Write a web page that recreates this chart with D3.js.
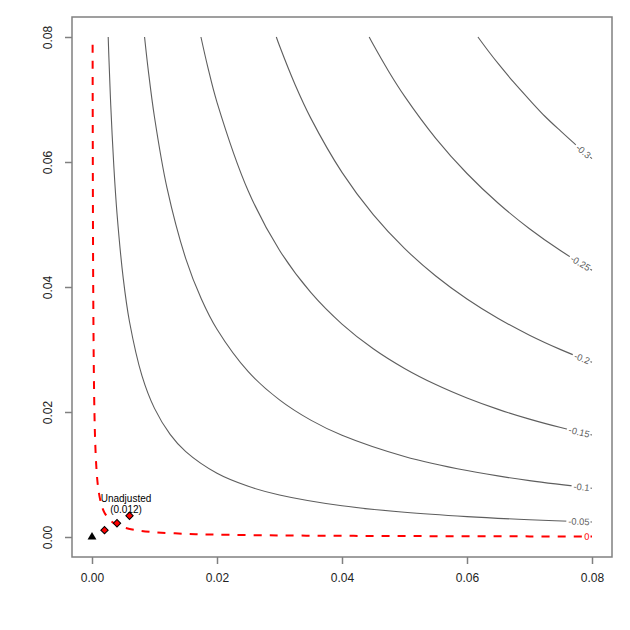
<!DOCTYPE html>
<html>
<head>
<meta charset="utf-8">
<script src="https://cdn.jsdelivr.net/npm/d3@7"></script>
<style>
body { margin: 0; background: #fff; }
svg { display: block; font-family: "Liberation Sans", Arial, Helvetica, sans-serif; }
</style>
</head>
<body>
<svg width="630" height="630"></svg>
<script>
// unadjusted estimate and contour levels of the adjusted estimate
var estimate = 0.012;
var contourLevels = [0, -0.05, -0.1, -0.15, -0.2, -0.25, -0.3];

// contour traces [x, y]
var contour0 = [[0.0000973, 0.08], [0.0001, 0.07787], [0.00012, 0.06489], [0.00015, 0.05192], [0.0002, 0.03894],
    [0.0003, 0.02595], [0.0004, 0.01946], [0.0005, 0.01557], [0.0007, 0.01112], [0.001, 0.00778],
    [0.0015, 0.00518], [0.002, 0.00389], [0.003, 0.00259], [0.004, 0.00194], [0.005, 0.00155],
    [0.007, 0.0011], [0.01, 0.00077], [0.015, 0.00051], [0.02, 0.00038], [0.03, 0.00025],
    [0.04, 0.00019], [0.05, 0.00015], [0.06, 0.00012], [0.07, 0.0001], [0.08, 0.00009]];
var contour005 = [[0.002592, 0.08], [0.0027, 0.07679], [0.003, 0.06909], [0.0035, 0.05919], [0.004, 0.05177],
    [0.005, 0.04137], [0.006, 0.03444], [0.008, 0.02578], [0.01, 0.02058], [0.0125, 0.01642],
    [0.015, 0.01365], [0.02, 0.01019], [0.025, 0.008108], [0.03, 0.006722], [0.04, 0.00499],
    [0.05, 0.00395], [0.06, 0.003257], [0.07, 0.002762], [0.08, 0.002391]];
var contour010 = [[0.008409, 0.08], [0.009, 0.0747], [0.01, 0.06716], [0.012, 0.05585], [0.015, 0.04455],
    [0.0175, 0.03809], [0.02, 0.03324], [0.025, 0.02646], [0.03, 0.02194], [0.035, 0.0187],
    [0.04, 0.01628], [0.05, 0.01289], [0.06, 0.01063], [0.07, 0.009013], [0.08, 0.007802]];
var contour015 = [[0.01743, 0.08], [0.0185, 0.07531], [0.02, 0.06955], [0.025, 0.05536], [0.03, 0.04589],
    [0.035, 0.03913], [0.04, 0.03407], [0.045, 0.03012], [0.05, 0.02697], [0.055, 0.02439],
    [0.06, 0.02224], [0.065, 0.02042], [0.07, 0.01886], [0.075, 0.01751], [0.08, 0.01632]];
var contour020 = [[0.02949, 0.08], [0.03, 0.07859], [0.0325, 0.07236], [0.035, 0.06702], [0.04, 0.05834],
    [0.045, 0.05158], [0.05, 0.04618], [0.055, 0.04176], [0.06, 0.03808], [0.065, 0.03496],
    [0.07, 0.03229], [0.075, 0.02998], [0.08, 0.02795]];
var contour025 = [[0.04435, 0.08], [0.045, 0.07879], [0.0475, 0.07445], [0.05, 0.07054], [0.055, 0.06379],
    [0.06, 0.05816], [0.065, 0.0534], [0.07, 0.04932], [0.075, 0.04579], [0.08, 0.04269]];
var contour030 = [[0.06175, 0.08], [0.0635, 0.07764], [0.065, 0.07573], [0.0675, 0.07273], [0.07, 0.06995],
    [0.0725, 0.06728], [0.075, 0.06493], [0.0775, 0.06267], [0.08, 0.06054]];
var contourTraces = [contour0, contour005, contour010, contour015, contour020, contour025, contour030];

// bound points
var boundX = [0.002, 0.004, 0.006];
var boundY = [0.0011, 0.0022, 0.0034];
var unadjustedPoint = [0, 0];

// axis ticks
var tickValues = [0, 0.02, 0.04, 0.06, 0.08];
var tickLabels = ["0.00", "0.02", "0.04", "0.06", "0.08"];

var svg = d3.select("svg");
var plotLeft = 72, plotRight = 612, plotTop = 17, plotBottom = 557;

var x = d3.scaleLinear().domain([-0.0032, 0.0832]).range([plotLeft, plotRight]);
var y = d3.scaleLinear().domain([-0.0032, 0.0832]).range([plotBottom, plotTop]);

var line = d3.line()
    .x(function(d) { return x(d[0]); })
    .y(function(d) { return y(d[1]); })
    .curve(d3.curveCatmullRom.alpha(0.5));

// contour lines
var lines = svg.append("g").attr("class", "contours");
var paths = contourLevels.map(function(lev, i) {
    var isZero = lev === 0;
    return lines.append("path")
        .attr("d", line(contourTraces[i]))
        .attr("fill", "none")
        .attr("stroke", isZero ? "#ff0000" : "#5e5e5e")
        .attr("stroke-width", isZero ? 2 : 1.1)
        .attr("stroke-dasharray", isZero ? "8,8" : null)
        .attr("stroke-dashoffset", isZero ? 8 : null)
        .node();
});

function lengthAtX(node, px) {
    var lo = 0, hi = node.getTotalLength();
    for (var i = 0; i < 40; i++) {
        var mid = (lo + hi) / 2;
        if (node.getPointAtLength(mid).x < px) lo = mid; else hi = mid;
    }
    return lo;
}

// contour labels, set into the line near its right end
var labels = svg.append("g").attr("class", "contour-labels");
contourLevels.forEach(function(lev, i) {
    var node = paths[i];
    var total = node.getTotalLength();
    var g = labels.append("g");
    var rect = g.append("rect").attr("fill", "#fff");
    var txt = g.append("text")
        .attr("text-anchor", "middle")
        .attr("dy", "0.35em")
        .attr("font-size", 9.3)
        .attr("fill", lev === 0 ? "#ff0000" : "#5e5e5e")
        .text(String(lev));
    var w = txt.node().getComputedTextLength();
    var len = lengthAtX(node, 589.5 - w / 2), theta = 0;
    for (var k = 0; k < 3; k++) {
        var a = node.getPointAtLength(Math.max(0, len - 3));
        var b = node.getPointAtLength(Math.min(total, len + 3));
        theta = Math.atan2(b.y - a.y, b.x - a.x);
        len = lengthAtX(node, 589.5 - (w / 2) * Math.cos(theta));
    }
    var p = node.getPointAtLength(len);
    rect.attr("x", -w / 2 - 2).attr("y", -4.5).attr("width", w + 3).attr("height", 9);
    g.attr("transform", "translate(" + p.x + "," + p.y + ") rotate(" + (theta * 180 / Math.PI) + ")");
});

// unadjusted point and bounds
svg.append("path")
    .attr("d", d3.symbol(d3.symbolTriangle, 34)())
    .attr("transform", "translate(" + x(unadjustedPoint[0]) + "," + y(unadjustedPoint[1]) + ")")
    .attr("fill", "#000");

svg.append("g").selectAll("path")
    .data(boundX.map(function(v, i) { return [v, boundY[i]]; }))
    .enter().append("path")
    .attr("d", d3.symbol(d3.symbolSquare, 27)())
    .attr("transform", function(d) { return "translate(" + x(d[0]) + "," + y(d[1]) + ") rotate(45)"; })
    .attr("fill", "#ff0000")
    .attr("stroke", "#000")
    .attr("stroke-width", 1);

var ux = x(unadjustedPoint[0]) + 34, uy = y(unadjustedPoint[1]);
var ulabel = svg.append("text")
    .attr("text-anchor", "middle")
    .attr("font-size", 10)
    .attr("fill", "#000");
ulabel.append("tspan").attr("x", ux).attr("y", uy - 34.7).text("Unadjusted");
ulabel.append("tspan").attr("x", ux).attr("y", uy - 24).text("(" + estimate + ")");

// axes
var xAxis = svg.append("g")
    .attr("transform", "translate(0," + plotBottom + ")")
    .call(d3.axisBottom(x).tickValues(tickValues)
        .tickFormat(function(d, i) { return tickLabels[i]; })
        .tickSize(7).tickSizeOuter(0).tickPadding(9));
var yAxis = svg.append("g")
    .attr("transform", "translate(" + plotLeft + ",0)")
    .call(d3.axisLeft(y).tickValues(tickValues)
        .tickFormat(function(d, i) { return tickLabels[i]; })
        .tickSize(7).tickSizeOuter(0));

[xAxis, yAxis].forEach(function(ax) {
    ax.select(".domain").remove();
    ax.selectAll(".tick line").attr("stroke", "#808080").attr("stroke-width", 1.5);
    ax.selectAll(".tick text").attr("fill", "#222").attr("font-size", 12)
        .attr("font-family", "\"Liberation Sans\", Arial, sans-serif");
});
yAxis.selectAll(".tick text")
    .attr("transform", "rotate(-90)")
    .attr("text-anchor", "middle")
    .attr("x", 0)
    .attr("y", -20.5)
    .attr("dy", 0);

// plot box
svg.append("rect")
    .attr("x", plotLeft).attr("y", plotTop)
    .attr("width", plotRight - plotLeft).attr("height", plotBottom - plotTop)
    .attr("fill", "none")
    .attr("stroke", "#808080")
    .attr("stroke-width", 1.5);
</script>
</body>
</html>
